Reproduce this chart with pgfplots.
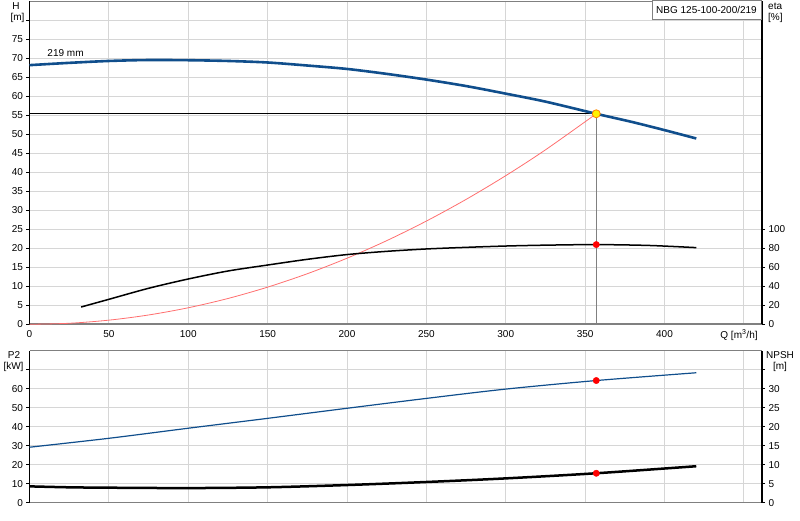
\documentclass[border=0pt]{standalone}
\usepackage{pgfplots}
\pgfplotsset{compat=1.18}
\usepackage{fontspec}
\setmainfont{Liberation Sans}
\definecolor{hblue}{RGB}{16,78,140}
\definecolor{gridc}{RGB}{214,214,214}
\definecolor{sysred}{RGB}{255,110,110}
\definecolor{framegray}{RGB}{128,128,128}
\pgfplotsset{
  base/.style={
    scale only axis,
    width=732.5pt,
    xmin=0, xmax=461.4,
    axis line style={draw=none},
    tick label style={font=\fontsize{10}{12}\selectfont},
    /pgf/number format/assume math mode=true,
    tick align=outside,
    major tick length=3pt,
    every tick/.style={black, line width=0.6pt},
    clip=false,
  },
}
\begin{document}
\begin{tikzpicture}[x=1pt,y=1pt]
\useasboundingbox (0,0) rectangle (800,520);
% ---------------- top panel ----------------
\begin{axis}[base,
  at={(29.5pt,195.7pt)}, anchor=south west,
  height=323pt,
  ymin=0, ymax=85,
  ytick={0,5,...,80},
  yticklabels={0,5,10,15,20,25,30,35,40,45,50,55,60,65,70,75,{}},
  ytick pos=left,
  xtick={0,50,...,450},
  xticklabels={0,50,100,150,200,250,300,350,400,{}},
  xtick pos=bottom,
  x tick style={draw=none},
  grid=major,
  major grid style={draw=gridc, line width=1pt},
]
\draw[framegray, line width=2pt] (rel axis cs:0,0) -- (rel axis cs:1,0);
\draw[framegray, line width=0.8pt] (rel axis cs:0,1) -- (rel axis cs:1,1);
\draw[black, line width=1.2pt] (rel axis cs:0,0) -- (rel axis cs:0,1);
\draw[black, line width=1.2pt] (rel axis cs:1,0) -- (rel axis cs:1,1);
% system curve
\addplot[sysred, line width=0.8pt, smooth] coordinates {
(0,0) (25,0.27) (50,1.09) (75,2.45) (100,4.35) (125,6.79) (150,9.78)
(175,13.31) (200,17.39) (225,22.01) (250,27.17) (275,32.87) (300,39.12)
(325,45.91) (357,55.4)};
% operating lines
\addplot[black, line width=0.8pt] coordinates {(0,55.4) (357,55.4)};
\addplot[framegray, line width=0.8pt] coordinates {(357,55.4) (357,0)};
% H curve
\addplot[hblue, line width=2.6pt, smooth] coordinates {
(0,68.2) (25,68.8) (50,69.3) (75,69.55) (100,69.5) (125,69.3) (150,68.9)
(175,68.1) (200,67.2) (225,65.9) (250,64.4) (275,62.7) (300,60.7)
(325,58.6) (357,55.4) (380,53.2) (400,51.1) (420,48.9)};
\addplot[only marks, mark=*, mark size=4pt, mark options={fill=yellow, draw=orange, line width=0.8pt}] coordinates {(357,55.4)};
\node[font=\fontsize{10}{12}\selectfont] at (axis cs:22.7,71.5) {219 mm};
\end{axis}
% eta axis
\begin{axis}[base,
  at={(29.5pt,195.7pt)}, anchor=south west,
  height=323pt,
  ymin=0, ymax=340,
  axis x line=none,
  axis y line*=right,
  ytick={0,20,...,100},
  yticklabel style={anchor=west},
]
\addplot[black, line width=1.5pt, smooth] coordinates {
(32.5,18.2) (50,26.3) (75,37.9) (100,47.7) (125,56.1) (150,62.4) (175,68.4)
(200,73.4) (225,76.8) (250,79.3) (275,81.0) (300,82.4) (325,83.3)
(357,83.9) (390,83.0) (420,80.7)};
\addplot[only marks, mark=*, mark size=3.2pt, red] coordinates {(357,83.9)};
\end{axis}
% ---------------- bottom panel ----------------
\begin{axis}[base,
  at={(29.5pt,17.3pt)}, anchor=south west,
  height=152pt,
  ymin=0, ymax=80,
  ytick={0,10,...,70},
  yticklabels={0,10,20,30,40,50,60,{}},
  ytick pos=left,
  xtick={0,50,...,450},
  xticklabels={},
  x tick style={draw=none},
  grid=major,
  major grid style={draw=gridc, line width=1pt},
]
\draw[framegray, line width=1.4pt] (rel axis cs:0,0) -- (rel axis cs:1,0);
\draw[framegray, line width=0.8pt] (rel axis cs:0,1) -- (rel axis cs:1,1);
\draw[black, line width=1.2pt] (rel axis cs:0,0) -- (rel axis cs:0,1);
\draw[black, line width=1.2pt] (rel axis cs:1,0) -- (rel axis cs:1,1);
\addplot[hblue, line width=1.2pt, smooth] coordinates {
(0,29.2) (50,33.9) (100,39.2) (150,44.4) (200,49.7) (250,54.9) (300,59.8)
(357,64.3) (420,68.4)};
\addplot[only marks, mark=*, mark size=3.2pt, red] coordinates {(357,64.3)};
\end{axis}
\begin{axis}[base,
  at={(29.5pt,17.3pt)}, anchor=south west,
  height=152pt,
  ymin=0, ymax=40,
  axis x line=none,
  axis y line*=right,
  ytick={0,5,...,35},
  yticklabels={0,5,10,15,20,25,30,{}},
  yticklabel style={anchor=west},
]
\addplot[black, line width=2.5pt, smooth] coordinates {
(0,4.3) (25,4.05) (50,3.95) (100,3.85) (150,4.05) (200,4.65) (250,5.45)
(300,6.4) (357,7.75) (420,9.6)};
\addplot[only marks, mark=*, mark size=3.2pt, red] coordinates {(357,7.75)};
\end{axis}
% ---------------- labels ----------------
\begin{scope}[every node/.style={font=\fontsize{10}{12}\selectfont, inner sep=0pt}]
\node at (16,514) {H};
\node at (17.5,502.5) {[m]};
\node[anchor=west] at (768,514) {eta};
\node[anchor=west] at (768,502.5) {[\%]};
\node at (14,164.5) {P2};
\node at (13.5,153.3) {[kW]};
\node at (780,164.5) {NPSH};
\node at (780,153.3) {[m]};
\node at (739,185) {Q [m\textsuperscript{3}/h]};
\draw[framegray, line width=0.8pt, fill=white] (652,500.5) rectangle (761,519.6);
\node at (706.5,510) {NBG 125-100-200/219};
\end{scope}
\end{tikzpicture}
\end{document}
